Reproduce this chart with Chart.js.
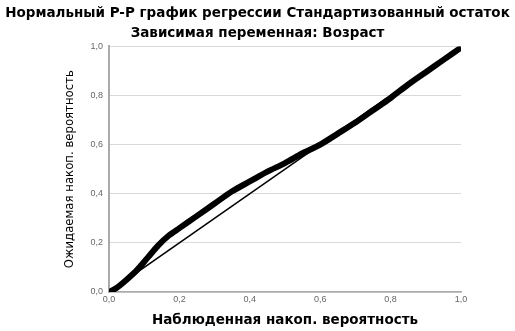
<!DOCTYPE html>
<html>
<head>
<meta charset="utf-8">
<script src="https://cdn.jsdelivr.net/npm/chart.js@4"></script>
<style>
  body { margin: 0; background: #fff; }
</style>
</head>
<body>
<canvas id="ppChart" width="515" height="331"></canvas>
<script>
// наблюденная / ожидаемая накопленная вероятность
var observedP = [0, 0.02, 0.05, 0.08, 0.11, 0.14, 0.17, 0.2, 0.25, 0.3, 0.35, 0.4, 0.45, 0.5, 0.55, 0.6, 0.65, 0.7, 0.75, 0.8, 0.85, 0.9, 0.95, 1.0];
var expectedP = [0, 0.015, 0.05, 0.09, 0.14, 0.19, 0.23, 0.26, 0.31, 0.36, 0.41, 0.45, 0.49, 0.525, 0.565, 0.60, 0.645, 0.69, 0.74, 0.79, 0.845, 0.895, 0.945, 0.995];
var refLineX = [0, 1];
var refLineY = [0, 1];
var tickValues = [0, 0.2, 0.4, 0.6, 0.8, 1.0];

var fmt = function (v) { return v.toFixed(1).replace('.', ','); };
var boldFont = "'DejaVu Sans', sans-serif";

var ctx = document.getElementById('ppChart').getContext('2d');
var ppChart = new Chart(ctx, {
    type: 'scatter',
    data: {
        datasets: [{
            data: observedP.map(function (x, i) { return { x: x, y: expectedP[i] }; }),
            showLine: true,
            borderColor: '#000',
            borderWidth: 6,
            tension: 0.3,
            pointRadius: 0
        }, {
            data: refLineX.map(function (x, i) { return { x: x, y: refLineY[i] }; }),
            showLine: true,
            borderColor: '#000',
            borderWidth: 1.5,
            pointRadius: 0
        }]
    },
    options: {
        responsive: false,
        animation: false,
        layout: { padding: { left: 0, right: 0, top: 0, bottom: 2 } },
        plugins: {
            legend: { display: false },
            tooltip: { enabled: false },
            title: {
                display: true,
                text: 'Нормальный P-P график регрессии Стандартизованный остаток',
                color: '#000',
                font: { family: boldFont, size: 13.5, weight: 'bold' },
                padding: { top: 5, bottom: 4 }
            },
            subtitle: {
                display: true,
                text: 'Зависимая переменная: Возраст',
                color: '#000',
                font: { family: boldFont, size: 13.5, weight: 'bold' },
                padding: { top: 0, bottom: 5 }
            }
        },
        scales: {
            x: {
                type: 'linear',
                min: 0,
                max: 1,
                afterBuildTicks: function (axis) { axis.ticks = tickValues.map(function (v) { return { value: v }; }); },
                ticks: {
                    callback: fmt,
                    color: '#666',
                    font: { family: 'Liberation Sans', size: 9 },
                    padding: 2,
                    maxRotation: 0
                },
                grid: { display: false, drawTicks: false },
                border: { color: '#aaa', width: 1.5 },
                title: {
                    display: true,
                    text: 'Наблюденная накоп. вероятность',
                    color: '#000',
                    font: { family: boldFont, size: 13.5, weight: 'bold' },
                    padding: { top: 6, bottom: 0 }
                }
            },
            y: {
                type: 'linear',
                min: 0,
                max: 1,
                afterBuildTicks: function (axis) { axis.ticks = tickValues.map(function (v) { return { value: v }; }); },
                afterFit: function (axis) { axis.width = 109; },
                ticks: {
                    callback: fmt,
                    color: '#666',
                    font: { family: 'Liberation Sans', size: 9 },
                    padding: 6
                },
                grid: { color: '#d9d9d9', lineWidth: 1, drawTicks: false },
                border: { color: '#aaa', width: 2 },
                title: {
                    display: true,
                    text: 'Ожидаемая накоп. вероятность',
                    color: '#000',
                    font: { family: "'DejaVu Sans Condensed', 'Liberation Sans', sans-serif", size: 13 },
                    padding: { top: 62, bottom: 6 }
                }
            },
            // пустое место справа от графика
            yRight: {
                position: 'right',
                display: true,
                afterFit: function (axis) { axis.width = 54; },
                ticks: { display: false },
                grid: { display: false, drawTicks: false },
                border: { display: false }
            }
        }
    }
});
</script>
</body>
</html>
